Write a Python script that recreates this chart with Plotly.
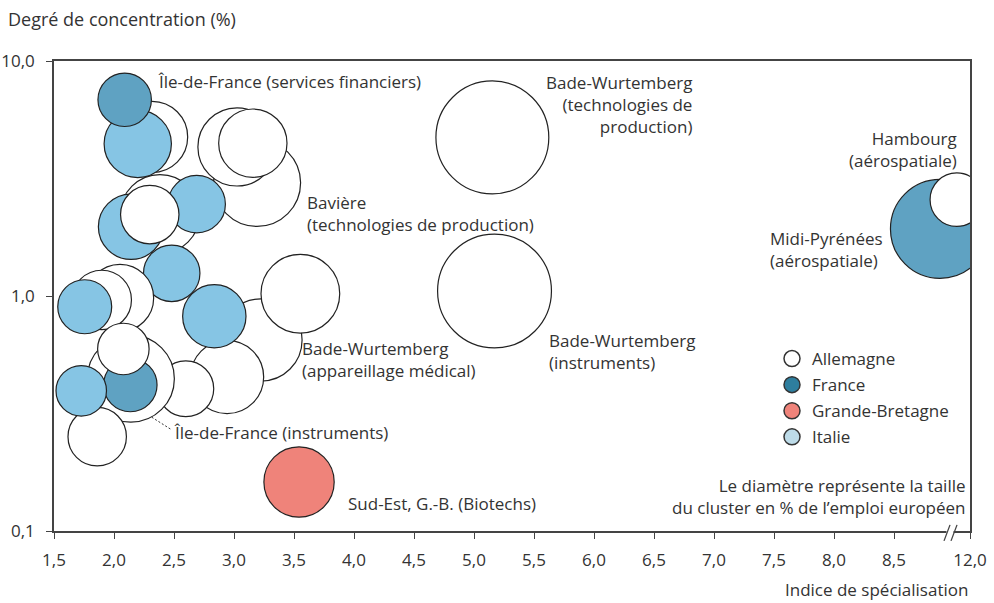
import math
import plotly.graph_objects as go

# ---------------- data (draw order: back to front) ----------------
regions = [
    "", "", "Île-de-France (services financiers)", "Bavière (technologies de production)", "", "",
    "", "", "", "", "",
    "", "", "",
    "Bade-Wurtemberg (appareillage médical)", "", "", "", "",
    "", "", "Île-de-France (instruments)", "", "",
    "Sud-Est, G.-B. (Biotechs)", "Bade-Wurtemberg (technologies de production)",
    "Bade-Wurtemberg (instruments)", "Midi-Pyrénées (aérospatiale)", "Hambourg (aérospatiale)",
]
pays = [
    "Allemagne", "Italie", "France", "Allemagne", "Allemagne", "Allemagne",
    "Allemagne", "Italie", "Italie", "Allemagne", "Italie",
    "Allemagne", "Allemagne", "Italie",
    "Allemagne", "Allemagne", "Allemagne", "Italie", "Allemagne",
    "Allemagne", "Allemagne", "France", "Italie", "Allemagne",
    "Grande-Bretagne", "Allemagne",
    "Allemagne", "France", "Allemagne",
]
# specialisation index (real values; the axis is broken before 12,0)
x_spec = [
    2.317, 2.198, 2.089, 3.192, 3.025, 3.157,
    2.383, 2.142, 2.689, 2.298, 2.481,
    2.050, 1.898, 1.756,
    3.225, 3.553, 2.942, 2.836, 2.598,
    2.140, 1.860, 2.136, 1.727, 2.078,
    3.542, 5.153,
    5.171, 8.883, 11.89,
]
# concentration degree (%)
y_conc = [
    4.75, 4.44, 6.84, 3.03, 4.31, 4.47,
    2.23, 1.97, 2.46, 2.22, 1.249,
    0.981, 0.962, 0.900,
    0.650, 1.023, 0.452, 0.820, 0.403,
    0.445, 0.252, 0.418, 0.395, 0.595,
    0.1616, 4.73,
    1.05, 1.93, 2.57,
]
# cluster size (relative diameter)
taille = [
    0.72, 0.68, 0.54, 0.88, 0.79, 0.69,
    0.80, 0.66, 0.58, 0.59, 0.57,
    0.68, 0.60, 0.545,
    0.83, 0.795, 0.74, 0.64, 0.565,
    0.88, 0.59, 0.54, 0.51, 0.52,
    0.71, 1.14,
    1.15, 1.00, 0.54,
]
x_tick_values = [1.5, 2.0, 2.5, 3.0, 3.5, 4.0, 4.5, 5.0, 5.5, 6.0, 6.5, 7.0, 7.5, 8.0, 8.5, 12.0]
y_tick_values = [0.1, 1.0, 10.0]
legend_countries = ["Allemagne", "France", "Grande-Bretagne", "Italie"]

# ---------------- styles ----------------
BUBBLE_FILL = {"Allemagne": "#ffffff", "France": "#5fa2c2",
               "Grande-Bretagne": "#ef837a", "Italie": "#86c5e4"}
LEGEND_FILL = {"Allemagne": "#ffffff", "France": "#2e7e9e",
               "Grande-Bretagne": "#ef837a", "Italie": "#bddbe8"}
TXT = "#333333"
AX = "#444444"
FONT = "Open Sans"
FS = 17

BREAK_AT = 8.97          # display position of the axis break
BREAK_SHIFT = 12.0 - 9.1333


def to_display(v):
    return v if v <= BREAK_AT else v - BREAK_SHIFT


def fr(v):
    return f"{v:.1f}".replace(".", ",")


fig = go.Figure()

# leader line for Île-de-France (instruments)
fig.add_trace(go.Scatter(
    x=[2.258, 2.483], y=[0.318, 0.269], mode="lines",
    line=dict(color=TXT, width=1, dash="2px,2px"),
    hoverinfo="skip", showlegend=False))

fig.add_trace(go.Scatter(
    x=[to_display(v) for v in x_spec], y=y_conc, mode="markers",
    text=regions, customdata=pays,
    hovertemplate="%{text} %{customdata}<extra></extra>",
    marker=dict(size=taille, sizemode="diameter", sizeref=0.0101,
                color=[BUBBLE_FILL[p] for p in pays],
                line=dict(color="#222222", width=1.2), opacity=1),
    showlegend=False))

for c in legend_countries:
    fig.add_trace(go.Scatter(
        x=[None], y=[None], mode="markers", name=c, legendgroup=c,
        marker=dict(size=16, color=LEGEND_FILL[c], line=dict(color="#333333", width=1.5))))


def lg(py):
    return (296 - py) / 235.0


def dx(px):
    return 1.5 + (px - 54) / 120.0


def px_paper(px):
    return (px - 54) / 916.0


def py_paper(py):
    return (531 - py) / 470.0


labels = [
    ("Île-de-France (services financiers)", dx(156), lg(81), "left", "left"),
    ("Bade-Wurtemberg<br>(technologies de<br>production)", dx(694), lg(104), "right", "right"),
    ("Hambourg<br>(aérospatiale)", dx(959), lg(149), "right", "right"),
    ("Midi-Pyrénées<br>(aérospatiale)", dx(768), lg(249), "left", "left"),
    ("Bavière<br>(technologies de production)", dx(305), lg(213), "left", "left"),
    ("Bade-Wurtemberg<br>(appareillage médical)", dx(300), lg(359), "left", "left"),
    ("Bade-Wurtemberg<br>(instruments)", dx(547), lg(351), "left", "left"),
    ("Île-de-France (instruments)", dx(172), lg(432), "left", "left"),
    ("Sud-Est, G.-B. (Biotechs)", dx(346), lg(503), "left", "left"),
]
annotations = []
for text, x, y, xa, al in labels:
    annotations.append(dict(text=text, x=x, y=y, xref="x", yref="y", xanchor=xa, yanchor="middle",
                            align=al, showarrow=False, font=dict(family=FONT, size=FS, color=TXT)))
annotations.append(dict(text="Le diamètre représente la taille<br>du cluster en % de l’emploi européen",
                        x=px_paper(968), y=py_paper(496), xref="paper", yref="paper",
                        showarrow=False, xanchor="right", yanchor="middle", align="right",
                        font=dict(family=FONT, size=FS, color=TXT)))
annotations.append(dict(text="Degré de concentration (%)", x=px_paper(6), y=py_paper(19),
                        xref="paper", yref="paper", showarrow=False, xanchor="left", yanchor="middle",
                        font=dict(family=FONT, size=18, color=TXT)))
annotations.append(dict(text="Indice de spécialisation", x=px_paper(970), y=py_paper(603),
                        xref="paper", yref="paper", showarrow=False, xanchor="right", yanchor="bottom",
                        font=dict(family=FONT, size=FS, color=TXT)))

shapes = [
    dict(type="rect", xref="x", yref="paper", x0=dx(946.5), x1=dx(953.5),
         y0=-0.012, y1=0.012, fillcolor="white", line=dict(width=0), layer="above"),
    dict(type="line", xref="x", yref="paper", x0=dx(944), x1=dx(950), y0=-0.021, y1=0.013,
         line=dict(color=AX, width=1.3), layer="above"),
    dict(type="line", xref="x", yref="paper", x0=dx(951), x1=dx(957), y0=-0.021, y1=0.013,
         line=dict(color=AX, width=1.3), layer="above"),
]

fig.update_layout(
    width=994, height=603,
    margin=dict(l=54, r=24, t=61, b=72, pad=0, autoexpand=False),
    paper_bgcolor="white", plot_bgcolor="white",
    font=dict(family=FONT, size=FS, color=TXT),
    showlegend=True,
    hovermode=False,
    legend=dict(x=px_paper(772), y=py_paper(341), xanchor="left", yanchor="top",
                bgcolor="rgba(0,0,0,0)", borderwidth=0, traceorder="grouped", tracegroupgap=1,
                font=dict(family=FONT, size=FS, color=TXT)),
    annotations=annotations,
    shapes=shapes,
    xaxis=dict(range=[1.5, 12.0 - BREAK_SHIFT], automargin=False,
               tickvals=[to_display(v) for v in x_tick_values],
               ticktext=[fr(v) for v in x_tick_values],
               ticks="outside", ticklen=6, tickcolor=AX, tickwidth=1.3,
               showline=True, linecolor=AX, linewidth=1.6, mirror=True,
               showgrid=False, zeroline=False, ticklabelstandoff=7,
               tickfont=dict(family=FONT, size=FS, color=TXT)),
    yaxis=dict(type="log", range=[-1, 1], automargin=False,
               tickvals=y_tick_values, ticktext=[fr(v) for v in y_tick_values],
               ticks="outside", ticklen=6, tickcolor=AX, tickwidth=1.3,
               showline=True, linecolor=AX, linewidth=1.6, mirror=True,
               showgrid=False, zeroline=False, ticklabelstandoff=8,
               tickfont=dict(family=FONT, size=FS, color=TXT)),
)

fig.write_html("out.html", config={"displayModeBar": False},
               post_script="document.body.style.margin='0';")
